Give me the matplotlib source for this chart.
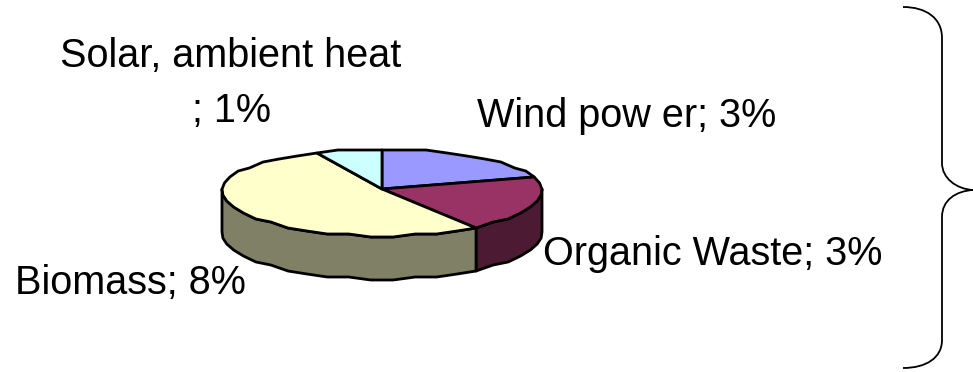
import numpy as np
import matplotlib
matplotlib.use('Agg')
import matplotlib.pyplot as plt
from matplotlib.patches import Polygon, PathPatch
from matplotlib.path import Path

plt.rcParams['font.family'] = ['Liberation Sans', 'DejaVu Sans']

# Share of each source, clockwise from twelve o'clock
names = ['Wind pow er', 'Organic Waste', 'Biomass', 'Solar, ambient heat\n']
shares = [3, 3, 8, 1]
top_colors = ['#9999FF', '#993366', '#FFFFCC', '#CCFFFF']
side_colors = ['#4D4D80', '#4D1A33', '#808066', '#668080']

# Pie geometry in pixels
cx, cy = 382, 189
rx = 160
ry_back, ry_front = 40, 47
depth = 43
step = 8  # coarse outline step, degrees
snap = 3  # rim vertices sit on a rough pixel grid


def rim(angles):
    a = np.radians(angles)
    x = cx + rx * np.sin(a)
    c = np.cos(a)
    y = cy - np.where(c > 0, ry_back, ry_front) * c
    return np.column_stack([x, cy + np.round((y - cy) / snap) * snap])


def arc_angles(a0, a1):
    inner = np.arange(np.ceil(a0 / step) * step, a1, step)
    return np.concatenate([[a0], inner[inner > a0], [a1]])


fig = plt.figure(figsize=(9.73, 3.72), dpi=100)
ax = fig.add_axes([0, 0, 1, 1])
ax.set_xlim(0, 973)
ax.set_ylim(372, 0)
ax.axis('off')

edges = np.concatenate([[0], np.cumsum(shares)]) / sum(shares) * 360
line_w = 2.0

# Side wall first, only the front half of the rim shows
for i in range(len(shares)):
    a0, a1 = max(edges[i], 90), min(edges[i + 1], 270)
    if a0 >= a1:
        continue
    upper = rim(arc_angles(a0, a1))
    lower = upper[::-1] + [0, depth]
    ax.add_patch(Polygon(np.vstack([upper, lower]), closed=True,
                         facecolor=side_colors[i], edgecolor='black',
                         linewidth=line_w, joinstyle='round'))

# Top face
for i in range(len(shares)):
    arc = rim(arc_angles(edges[i], edges[i + 1]))
    ax.add_patch(Polygon(np.vstack([[cx, cy], arc]), closed=True,
                         facecolor=top_colors[i], edgecolor='black',
                         linewidth=line_w, joinstyle='round'))

# Labels
font_size = 28.5
label_pos = [(477, 127, 'left'), (543, 265, 'left'), (15, 294, 'left'), (231, 122, 'center')]
for name, share, (lx, ly, ha) in zip(names, shares, label_pos):
    ax.text(lx, ly, f'{name}; {share}%', fontsize=font_size, ha=ha, va='baseline',
            multialignment='center', linespacing=1.58, color='black')

# Curly brace on the right
verts = [(903, 7), (926, 7), (942, 18), (942, 38),
         (942, 163),
         (942, 178), (956, 189), (973, 190),
         (956, 191), (942, 200), (942, 217),
         (942, 340),
         (942, 358), (926, 368), (903, 368)]
codes = [Path.MOVETO, Path.CURVE4, Path.CURVE4, Path.CURVE4,
         Path.LINETO,
         Path.CURVE4, Path.CURVE4, Path.CURVE4,
         Path.CURVE4, Path.CURVE4, Path.CURVE4,
         Path.LINETO,
         Path.CURVE4, Path.CURVE4, Path.CURVE4]
ax.add_patch(PathPatch(Path(verts, codes), facecolor='none', edgecolor='black', linewidth=1.3))

fig.savefig('out.png', dpi=100)
